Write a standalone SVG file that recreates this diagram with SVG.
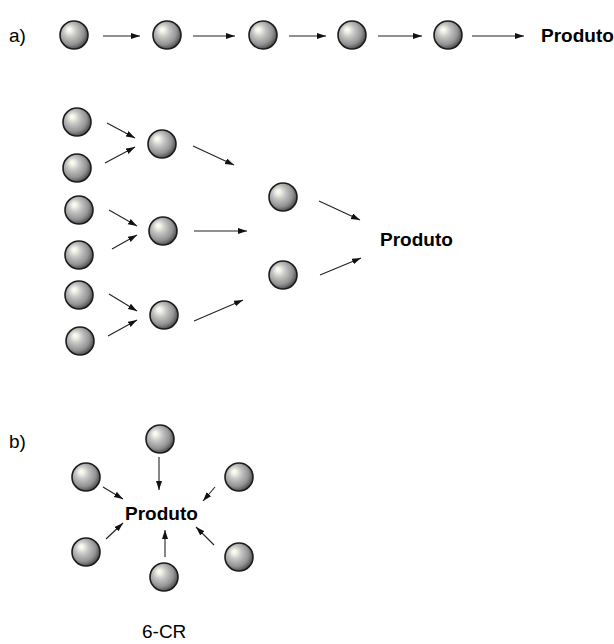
<svg xmlns="http://www.w3.org/2000/svg" width="614" height="644" viewBox="0 0 614 644">
<style>
.t{font-family:"Liberation Sans",Arial,sans-serif;fill:#000}
.b{font-weight:bold;font-size:19px}
.r{font-size:19px}
.ball{fill:url(#g);stroke:#1c1c1c;stroke-width:1.6}
.c line{stroke:#222;stroke-width:1.1;marker-end:url(#ah)}
</style>
<defs>
<radialGradient id="g" cx="0.42" cy="0.42" r="0.6" fx="0.32" fy="0.3">
<stop offset="0" stop-color="#ffffff"/>
<stop offset="0.14" stop-color="#f2f2e6"/>
<stop offset="0.38" stop-color="#c6c6c6"/>
<stop offset="0.75" stop-color="#939393"/>
<stop offset="1" stop-color="#4a4a4a"/>
</radialGradient>
<marker id="ah" markerUnits="userSpaceOnUse" markerWidth="10" markerHeight="8" refX="9" refY="3" orient="auto">
<path d="M0,0 L9,3 L0,6 Z" fill="#111"/>
</marker>
</defs>
<rect width="614" height="644" fill="#fff"/>
<text class="t r" x="9" y="42">a)</text>
<text class="t r" x="9" y="448">b)</text>
<g id="a1"><circle class="ball" cx="74" cy="35" r="14"/></g>
<g id="a2"><circle class="ball" cx="167" cy="35" r="14"/></g>
<g id="a3"><circle class="ball" cx="263" cy="35" r="14"/></g>
<g id="a4"><circle class="ball" cx="352" cy="35" r="14"/></g>
<g id="a5"><circle class="ball" cx="448" cy="35" r="14"/></g>
<g id="p1"><text class="t b" x="541" y="42">Produto</text></g>
<g id="l1"><circle class="ball" cx="77" cy="122" r="14"/></g>
<g id="l2"><circle class="ball" cx="77" cy="168" r="14"/></g>
<g id="l3"><circle class="ball" cx="79" cy="210" r="14"/></g>
<g id="l4"><circle class="ball" cx="79" cy="255" r="14"/></g>
<g id="l5"><circle class="ball" cx="79" cy="295" r="14"/></g>
<g id="l6"><circle class="ball" cx="80" cy="341" r="14"/></g>
<g id="m1"><circle class="ball" cx="162" cy="144" r="14"/></g>
<g id="m2"><circle class="ball" cx="163" cy="231" r="14"/></g>
<g id="m3"><circle class="ball" cx="164" cy="315" r="14"/></g>
<g id="r1"><circle class="ball" cx="283" cy="197" r="14"/></g>
<g id="r2"><circle class="ball" cx="283" cy="275" r="14"/></g>
<g id="p2"><text class="t b" x="380" y="246">Produto</text></g>
<g id="s1"><circle class="ball" cx="160" cy="439" r="14"/></g>
<g id="s2"><circle class="ball" cx="86" cy="477" r="14"/></g>
<g id="s3"><circle class="ball" cx="239" cy="477" r="14"/></g>
<g id="s4"><circle class="ball" cx="86" cy="552" r="14"/></g>
<g id="s5"><circle class="ball" cx="239" cy="557" r="14"/></g>
<g id="s6"><circle class="ball" cx="164" cy="577" r="14"/></g>
<g id="p3"><text class="t b" x="125" y="520">Produto</text></g>
<text class="t r" x="142" y="638">6-CR</text>
<g class="c" id="connectors">
<line x1="103" y1="36" x2="140" y2="36"/>
<line x1="193" y1="36" x2="235" y2="36"/>
<line x1="289" y1="36" x2="326" y2="36"/>
<line x1="378" y1="36" x2="422" y2="36"/>
<line x1="472" y1="36" x2="524" y2="36"/>
<line x1="107" y1="123" x2="135" y2="138"/>
<line x1="105" y1="163" x2="135" y2="147"/>
<line x1="109" y1="210" x2="137" y2="226"/>
<line x1="112" y1="249" x2="137" y2="235"/>
<line x1="109" y1="294" x2="137" y2="311"/>
<line x1="108" y1="336" x2="137" y2="320"/>
<line x1="193" y1="146" x2="234" y2="165"/>
<line x1="194" y1="231" x2="247" y2="231"/>
<line x1="194" y1="321" x2="243" y2="300"/>
<line x1="319" y1="201" x2="360" y2="220"/>
<line x1="320" y1="275" x2="361" y2="258"/>
<line x1="159" y1="457" x2="159" y2="490"/>
<line x1="103" y1="487" x2="123" y2="499"/>
<line x1="215" y1="487" x2="203" y2="501"/>
<line x1="106" y1="539" x2="123" y2="523"/>
<line x1="165" y1="557" x2="165" y2="530"/>
<line x1="214" y1="545" x2="196" y2="527"/>
</g>
</svg>
